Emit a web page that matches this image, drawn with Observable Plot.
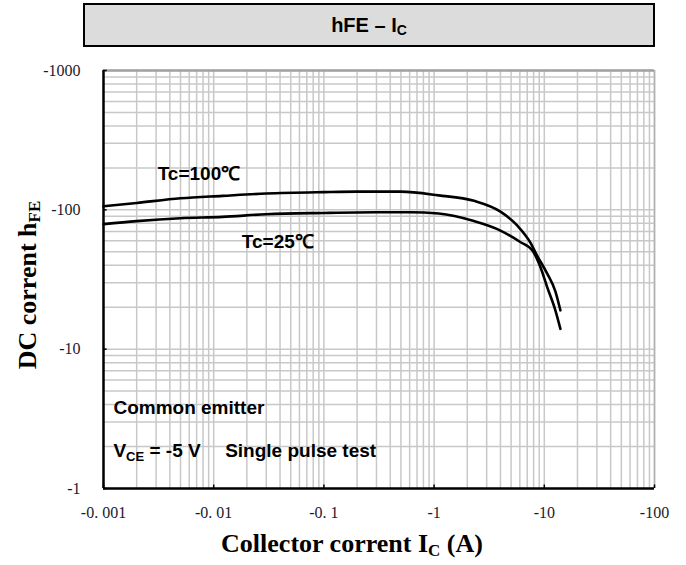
<!DOCTYPE html>
<html><head><meta charset="utf-8">
<script src="https://cdn.jsdelivr.net/npm/d3@7"></script>
<script src="https://cdn.jsdelivr.net/npm/@observablehq/plot@0.6"></script>
<style>
body{margin:0;background:#fff;width:686px;height:565px;overflow:hidden;position:relative}
#title{position:absolute;left:83px;top:3px;width:568px;height:40px;border:2px solid #000;background:#dcdcdc;text-align:center;font:bold 20px Arial,"Liberation Sans",sans-serif;line-height:40px;color:#000}
#title sub{font-size:14px;vertical-align:-3px;line-height:0}
#chart{position:absolute;left:0;top:52px}
</style></head><body>
<div id="title">hFE – I<sub>C</sub></div>
<div id="chart"></div>
<script>
// Tc = 100 °C curve
const ic100 = [0.001, 0.002, 0.005, 0.012, 0.03, 0.1, 0.2, 0.5, 1.1, 2.3, 4, 5.7, 7.5, 8.6, 10.6, 12.6, 14];
const hfe100 = [106, 112, 121, 126, 131, 134, 135, 135, 127, 116, 97, 77, 58, 47, 35, 26, 19];
// Tc = 25 °C curve
const ic25 = [0.001, 0.002, 0.005, 0.012, 0.03, 0.1, 0.3, 0.6, 1.1, 2.3, 4, 6, 7.8, 9.2, 10.6, 12.6, 14];
const hfe25 = [79, 83, 87, 89, 93, 95, 96, 96, 94, 83, 71, 59, 51, 39, 28, 19, 14];

// axes
const xTicks = [0.001, 0.01, 0.1, 1, 10, 100];
const xTickLabels = ["-0. 001", "-0. 01", "-0. 1", "-1", "-10", "-100"];
const yTicks = [1, 10, 100, 1000];
const yTickLabels = ["-1", "-10", "-100", "-1000"];

// annotations (data coordinates)
const annText = ["Tc=100℃", "Tc=25℃", "Common emitter", "VCE = -5 V", "Single pulse test"];
const annX = [0.0031, 0.018, 0.00123, 0.00123, 0.0127];
const annY = [180, 58.5, 3.76, 1.875, 1.875];

const series = [
  ...ic100.map((x, i) => ({x, y: hfe100[i], s: "100"})),
  ...ic25.map((x, i) => ({x, y: hfe25[i], s: "25"}))
];
const ann = annText.map((t, i) => ({t, x: annX[i], y: annY[i]}));

const xGrid = d3.scaleLog().domain([0.001, 100]).ticks(10);
const yGrid = d3.scaleLog().domain([1, 1000]).ticks(10);
const xLab = new Map(xTicks.map((d, i) => [d, xTickLabels[i]]));
const yLab = new Map(yTicks.map((d, i) => [d, yTickLabels[i]]));

const tickFont = {fontFamily: "'Liberation Serif', 'DejaVu Serif', serif", fontSize: 16, fill: "#1a1a2a"};

const plot = Plot.plot({
  width: 686, height: 513,
  marginLeft: 103, marginRight: 32, marginTop: 18, marginBottom: 77,
  x: {type: "log", domain: [0.001, 100]},
  y: {type: "log", domain: [1, 1000]},
  style: {background: "#fff"},
  marks: [
    Plot.gridX(xGrid, {stroke: "#c8c8c8", strokeOpacity: 1, strokeWidth: 1.5}),
    Plot.gridY(yGrid, {stroke: "#c8c8c8", strokeOpacity: 1, strokeWidth: 1.5}),
    Plot.ruleY([1000], {stroke: "#a0a0a0", strokeWidth: 2.5}),
    Plot.ruleX([100], {stroke: "#b0b0b0", strokeWidth: 1.5}),
    Plot.ruleX([0.001], {stroke: "#000", strokeWidth: 2.5}),
    Plot.ruleY([1], {stroke: "#000", strokeWidth: 2.5}),
    Plot.ruleX(xTicks, {y1: 1, y2: 1.06, stroke: "#000", strokeWidth: 1.5}),
    Plot.ruleY(yTicks, {x1: 0.001, x2: 0.00108, stroke: "#000", strokeWidth: 1.5}),
    Plot.axisX(xTicks, {tickSize: 0, tickPadding: 18, tickFormat: d => xLab.get(d), label: null, ...tickFont}),
    Plot.axisY(yTicks, {tickSize: 0, tickPadding: 23, tickFormat: d => yLab.get(d), label: null, ...tickFont}),
    Plot.line(series, {x: "x", y: "y", z: "s", stroke: "#000", strokeWidth: 2.6, curve: "monotone-x"}),
    Plot.text(ann, {x: "x", y: "y", text: "t", textAnchor: "start", fontWeight: "bold", fontSize: 19, fontFamily: "Arial, 'Liberation Sans', sans-serif", fill: "#000"})
  ]
});

const svg = d3.select(plot);
// subscript for V_CE
svg.selectAll("text").filter(function() { return this.textContent === "VCE = -5 V"; }).each(function() {
  const t = d3.select(this);
  t.text("V");
  t.append("tspan").attr("font-size", 13).attr("dy", 4).text("CE");
  t.append("tspan").attr("dy", -4).text(" = -5 V");
});
// axis titles
const yt = svg.append("text")
  .attr("transform", "translate(36,233) rotate(-90)")
  .attr("text-anchor", "middle")
  .attr("font-family", "'Liberation Serif', 'Times New Roman', serif")
  .attr("font-weight", "bold").attr("font-size", 26).attr("fill", "#000");
yt.append("tspan").text("DC corrent h");
yt.append("tspan").attr("font-size", 17).attr("dy", 4).text("FE");
const xt = svg.append("text")
  .attr("transform", "translate(352,500)")
  .attr("text-anchor", "middle")
  .attr("font-family", "'Liberation Serif', 'Times New Roman', serif")
  .attr("font-weight", "bold").attr("font-size", 26).attr("fill", "#000");
xt.append("tspan").text("Collector corrent I");
xt.append("tspan").attr("font-size", 17).attr("dy", 4).text("C");
xt.append("tspan").attr("dy", -4).text(" (A)");

document.getElementById("chart").appendChild(plot);
</script>
</body></html>
